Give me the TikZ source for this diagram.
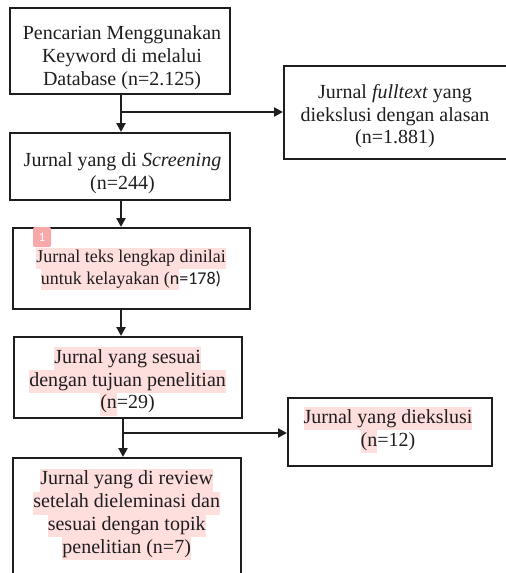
\documentclass[tikz,border=0pt]{standalone}
\usepackage{fontspec}
\setmainfont{Liberation Serif}
\newfontfamily\calfont{Carlito}
\usetikzlibrary{arrows.meta}
\definecolor{hlpink}{HTML}{FFDEDE}
\definecolor{badgepink}{HTML}{F7A8A8}
\definecolor{ink}{HTML}{1E1E1E}
\newcommand\hlx[1]{{\setlength{\fboxsep}{0pt}\colorbox{hlpink}{\strut #1}}}
\tikzset{
  boxshape/.style={draw=ink, line width=1.7pt, rectangle, inner sep=0pt, anchor=north west},
  txt/.style={align=center, inner sep=0pt, text=ink, font=\fontsize{20}{22.8}\selectfont},
  smalltxt/.style={align=center, inner sep=0pt, text=ink, font=\fontsize{18}{21.3}\selectfont},
  conn/.style={draw=ink, line width=2.2pt, -{Triangle[length=9pt,width=9pt]}},
}
\begin{document}
\begin{tikzpicture}[x=1pt,y=-1pt]
\useasboundingbox (0,0) rectangle (506,573);
\clip (0,0) rectangle (506,573);
% boxes
\node[boxshape, minimum width=220, minimum height=86] (b1) at (9,7) {};
\node[boxshape, minimum width=220, minimum height=67] (b2) at (9,132) {};
\node[boxshape, minimum width=240, minimum height=93] (r1) at (283,65) {};
\node[boxshape, minimum width=237, minimum height=81] (b3) at (12,227) {};
\node[boxshape, minimum width=228, minimum height=81] (b4) at (13,336) {};
\node[boxshape, minimum width=204, minimum height=68] (r2) at (287,397) {};
\node[boxshape, minimum width=228, minimum height=140] (b5) at (12,457) {};
% texts
\node[txt] (t1) at (122,56.5) {\strut Pencarian Menggunakan\\Keyword di melalui\\Database (n=2.125)};
\node[txt] (tr1) at (395,115.2) {\strut Jurnal \textit{fulltext} yang\\diekslusi dengan alasan\\(n=1.881)};
\node[txt] (t2) at (122.5,172.5) {\strut Jurnal yang di \textit{Screening}\\(n=244)};
\node[smalltxt] (t3) at (131,269.1) {\hlx{Jurnal teks lengkap dinilai}\\\hlx{untuk kelayakan ({\calfont n}}{\calfont =178)}};
\node[txt] (t4) at (127.6,381.5) {\hlx{Jurnal yang sesuai}\\\hlx{dengan tujuan penelitian}\\\hlx{(n}=29)};
\node[txt] (tr2) at (388,430.1) {\hlx{Jurnal yang diekslusi}\\\hlx{(n}=12)};
\node[txt] (t5) at (126.7,514.6) {\hlx{Jurnal yang di review}\\\hlx{setelah dieleminasi dan}\\\hlx{sesuai dengan topik}\\\hlx{penelitian (n=7)}};
% badge
\node[fill=badgepink, rounded corners=2pt, minimum width=18, minimum height=20, inner sep=0pt, text=white, font=\calfont\fontsize{13}{13}\selectfont] (badge) at (42,237) {1};
% junctions
\coordinate (a1) at (121,112);
\coordinate (a2) at (121,215);
\coordinate (a3) at (121,322);
\coordinate (a4) at (123,433);
% connectors
\draw[conn] (b1.south -| a1) -- (b2.north -| a1);
\draw[conn] (a1) -- (a1 -| r1.west);
\draw[conn] (b2.south -| a2) -- (b3.north -| a2);
\draw[conn] (b3.south -| a3) -- (b4.north -| a3);
\draw[conn] (b4.south -| a4) -- (b5.north -| a4);
\draw[conn] (a4) -- (a4 -| r2.west);
\end{tikzpicture}
\end{document}
